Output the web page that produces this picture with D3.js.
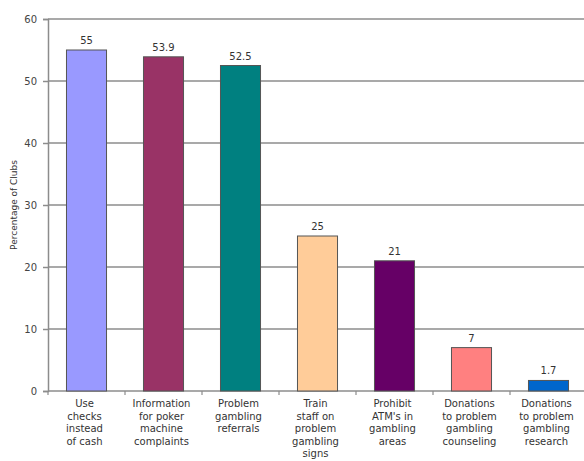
<!DOCTYPE html>
<html>
<head>
<meta charset="utf-8">
<script src="https://cdn.jsdelivr.net/npm/d3@7"></script>
<style>
  body { margin: 0; background: #fff; }
  text { font-family: "DejaVu Sans", Verdana, sans-serif; fill: #333; }
</style>
</head>
<body>
<div id="chart"></div>
<script>
var categories = [
  ["Use", "checks", "instead", "of cash"],
  ["Information", "for poker", "machine", "complaints"],
  ["Problem", "gambling", "referrals"],
  ["Train", "staff on", "problem", "gambling", "signs"],
  ["Prohibit", "ATM's in", "gambling", "areas"],
  ["Donations", "to problem", "gambling", "counseling"],
  ["Donations", "to problem", "gambling", "research"]
];
var values = [55, 53.9, 52.5, 25, 21, 7, 1.7];
var valueLabels = ["55", "53.9", "52.5", "25", "21", "7", "1.7"];
var colors = ["#9999ff", "#993366", "#008080", "#ffcc99", "#660066", "#ff8080", "#0066cc"];
var yTicks = [0, 10, 20, 30, 40, 50, 60];

var width = 584, height = 461;
var plotLeft = 48, plotTop = 19, plotBottom = 391, plotRight = 587;

var svg = d3.select('#chart').append('svg')
  .attr('width', width).attr('height', height);

var x = d3.scaleBand().domain(d3.range(values.length))
  .range([plotLeft, plotRight]).paddingInner(0).paddingOuter(0);
var y = d3.scaleLinear().domain([0, 60]).range([plotBottom, plotTop]);

// grid lines
svg.append('g').selectAll('line').data(yTicks.filter(function(d) { return d > 0; }))
  .enter().append('line')
  .attr('x1', plotLeft).attr('x2', width)
  .attr('y1', function(d) { return y(d); }).attr('y2', function(d) { return y(d); })
  .attr('stroke', '#8c8c8c').attr('stroke-width', 1.5);

// y axis
var yAxis = svg.append('g').attr('transform', 'translate(' + plotLeft + ',0)')
  .call(d3.axisLeft(y).tickValues(yTicks).tickSize(5).tickPadding(6));
yAxis.select('.domain').attr('stroke', '#8c8c8c').attr('stroke-width', 1.5);
yAxis.selectAll('.tick line').attr('stroke', '#8c8c8c').attr('stroke-width', 1.5);
yAxis.selectAll('.tick text').style('font-size', '10px').style('fill', '#444')
  .style('font-family', '"DejaVu Sans", Verdana, sans-serif');

// x axis line
svg.append('line').attr('x1', plotLeft).attr('x2', width)
  .attr('y1', plotBottom).attr('y2', plotBottom)
  .attr('stroke', '#8c8c8c').attr('stroke-width', 1.5);
svg.append('g').selectAll('line').data(d3.range(values.length + 1))
  .enter().append('line')
  .attr('x1', function(d) { return plotLeft + d * x.bandwidth(); })
  .attr('x2', function(d) { return plotLeft + d * x.bandwidth(); })
  .attr('y1', plotBottom).attr('y2', plotBottom + 4)
  .attr('stroke', '#8c8c8c').attr('stroke-width', 1.2);

// bars
var bw = x.bandwidth() * 0.52;
svg.append('g').selectAll('rect').data(values)
  .enter().append('rect')
  .attr('x', function(d, i) { return x(i) + (x.bandwidth() - bw) / 2; })
  .attr('y', function(d) { return y(d); })
  .attr('width', bw)
  .attr('height', function(d) { return plotBottom - y(d); })
  .attr('fill', function(d, i) { return colors[i]; })
  .attr('stroke', '#555').attr('stroke-width', 1);

// value labels
svg.append('g').selectAll('text').data(values)
  .enter().append('text')
  .attr('x', function(d, i) { return x(i) + x.bandwidth() / 2; })
  .attr('y', function(d) { return y(d) - 6; })
  .attr('text-anchor', 'middle')
  .style('font-size', '10px')
  .text(function(d, i) { return valueLabels[i]; });

// category labels
var cat = svg.append('g').selectAll('text').data(categories)
  .enter().append('text')
  .attr('text-anchor', 'middle')
  .attr('x', function(d, i) { return x(i) + x.bandwidth() / 2 - 2; })
  .attr('y', plotBottom + 16)
  .style('font-size', '10px');
cat.selectAll('tspan').data(function(d) { return d; })
  .enter().append('tspan')
  .attr('x', function() { return d3.select(this.parentNode).attr('x'); })
  .attr('dy', function(d, i) { return i === 0 ? 0 : 12.5; })
  .text(function(d) { return d; });

// y axis title
svg.append('text')
  .attr('transform', 'translate(17,' + ((plotTop + plotBottom) / 2) + ') rotate(-90)')
  .attr('text-anchor', 'middle')
  .style('font-size', '9px')
  .text('Percentage of Clubs');
</script>
</body>
</html>
